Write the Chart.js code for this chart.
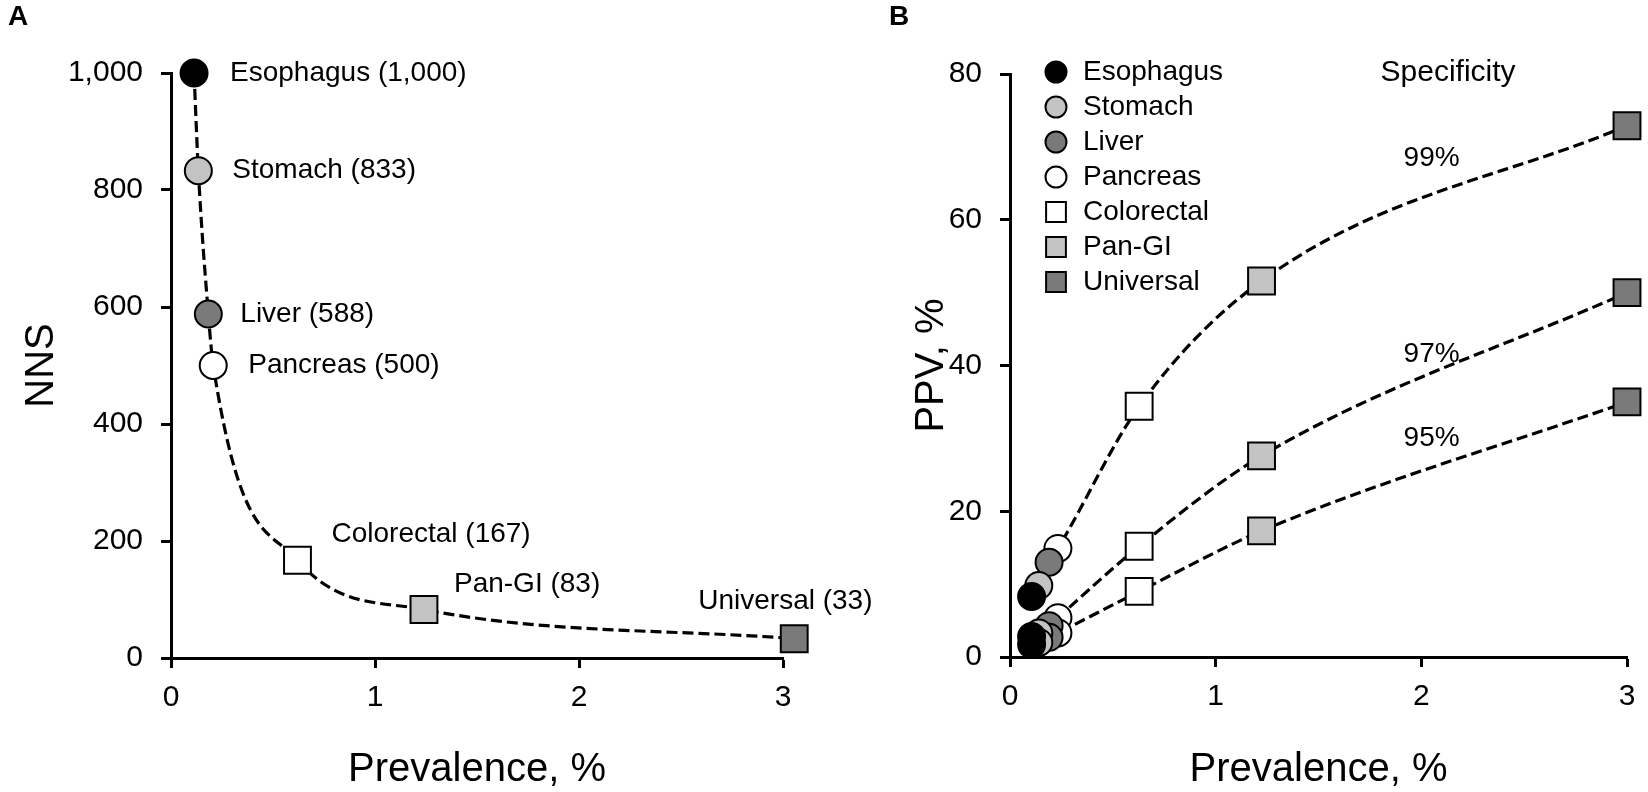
<!DOCTYPE html>
<html>
<head>
<meta charset="utf-8">
<title>NNS and PPV by prevalence</title>
<script src="https://cdn.jsdelivr.net/npm/chart.js@4.4.1/dist/chart.umd.min.js"></script>
<style>
  html, body { margin: 0; padding: 0; background: #fff; }
  #wrap { position: relative; width: 1648px; height: 792px; overflow: hidden; }
  canvas { position: absolute; top: 0; }
  #chartA { left: 0; }
  #chartB { left: 850px; }
  .tag { position: absolute; top: 0; font: bold 28px "Liberation Sans", Arial, sans-serif; color: #000; }
</style>
</head>
<body>
<div id="wrap">
  <canvas id="chartA" width="900" height="792"></canvas>
  <canvas id="chartB" width="798" height="792"></canvas>
  <div class="tag" style="left:8px">A</div>
  <div class="tag" style="left:889px">B</div>
</div>
<script>
/* ---- data ---- */
const categories = ['Esophagus', 'Stomach', 'Liver', 'Pancreas', 'Colorectal', 'Pan-GI', 'Universal'];
const nnsValues = [1000, 833, 588, 500, 167, 83, 33];
const prevalenceA = [0.113, 0.134, 0.183, 0.207, 0.62, 1.24, 3.055];
const prevalenceB = [0.105, 0.14, 0.19, 0.233, 0.628, 1.223, 3.0];
const ppv99 = [8.3, 9.8, 13.0, 14.9, 34.4, 51.6, 72.9];
const ppv97 = [2.8, 3.3, 4.3, 5.4, 15.2, 27.6, 50.0];
const ppv95 = [1.7, 2.0, 2.7, 3.3, 9.0, 17.3, 35.0];
const specLabels = ['99%', '97%', '95%'];
const prevTicks = [0, 1, 2, 3];
const nnsTicks = [0, 200, 400, 600, 800, 1000];
const ppvTicks = [0, 20, 40, 60, 80];

/* ---- styles ---- */
const FONT = '"Liberation Sans", Arial, sans-serif';
const markerShape = ['circle', 'circle', 'circle', 'circle', 'rect', 'rect', 'rect'];
const markerFill = ['#000000', '#c3c3c3', '#7a7a7a', '#ffffff', '#ffffff', '#c3c3c3', '#7a7a7a'];
// text offset from the marker centre (px) for panel A labels
const labelOffsetA = [[36, 0], [34, 0], [32, 0], [35, 0], [34, -26], [30, -25], [-96, -37]];
// where the specificity labels sit (data units)
const specLabelPos = [[2.05, 68.5], [2.05, 41.5], [2.05, 30]];

const markerRadius = i => markerShape[i] === 'rect' ? 19 : 13.5;

function makeScale(cfg) {
    return {
        type: 'linear',
        min: cfg.ticks[0],
        max: cfg.ticks[cfg.ticks.length - 1],
        afterBuildTicks: s => { s.ticks = cfg.ticks.map(v => ({ value: v })); },
        afterFit: s => {
            if (cfg.width) s.width = cfg.width;
            if (cfg.height) s.height = cfg.height;
        },
        grid: { drawOnChartArea: false, drawTicks: true, tickLength: 10, tickWidth: 3, tickColor: '#000' },
        border: { color: '#000', width: 3 },
        ticks: { color: '#000', font: { size: 30, family: FONT }, padding: cfg.tickPad },
        title: {
            display: true, text: cfg.title, color: '#000',
            font: { size: 40, family: FONT, lineHeight: 1 },
            padding: cfg.titlePad
        }
    };
}

function markerDataset(i, points) {
    return {
        label: categories[i],
        data: points,
        showLine: false,
        pointStyle: markerShape[i],
        pointRadius: markerRadius(i),
        pointBackgroundColor: markerFill[i],
        pointBorderColor: '#000',
        pointBorderWidth: 2,
        clip: false
    };
}

function curveDataset(xs, ys) {
    return {
        label: '_curve',
        data: xs.map((x, k) => ({ x, y: ys[k] })),
        borderColor: '#000',
        borderWidth: 3.2,
        borderDash: [11, 5],
        pointRadius: 0,
        cubicInterpolationMode: 'monotone',
        fill: false,
        clip: false
    };
}

const baseOptions = {
    responsive: false,
    animation: false,
    devicePixelRatio: 1,
    locale: 'en-US',
    events: [],
    plugins: { legend: { display: false }, tooltip: { enabled: false } }
};

/* ---- panel A labels ---- */
const pointLabelsA = {
    id: 'pointLabelsA',
    afterDatasetsDraw(chart) {
        const { ctx, scales: { x, y } } = chart;
        ctx.save();
        ctx.font = `28px ${FONT}`;
        ctx.fillStyle = '#000';
        ctx.textBaseline = 'middle';
        ctx.textAlign = 'left';
        categories.forEach((name, i) => {
            const px = x.getPixelForValue(prevalenceA[i]) + labelOffsetA[i][0];
            const py = y.getPixelForValue(nnsValues[i]) + labelOffsetA[i][1];
            ctx.fillText(`${name} (${nnsValues[i].toLocaleString('en-US')})`, px, py);
        });
        ctx.restore();
    }
};

/* ---- panel B legend + specificity labels ---- */
const legendB = {
    id: 'legendB',
    afterDatasetsDraw(chart) {
        const { ctx, chartArea, scales: { x, y } } = chart;
        ctx.save();
        ctx.textBaseline = 'middle';
        ctx.fillStyle = '#000';

        // legend in the upper left corner
        ctx.font = `28px ${FONT}`;
        ctx.textAlign = 'left';
        categories.forEach((name, i) => {
            const cx = chartArea.left + 46;
            const cy = chartArea.top - 2 + i * 35;
            ctx.fillStyle = markerFill[i];
            ctx.strokeStyle = '#000';
            ctx.lineWidth = 2;
            Chart.helpers.drawPoint(ctx, {
                pointStyle: markerShape[i],
                radius: markerShape[i] === 'rect' ? 14 : 10.5,
                borderWidth: 2
            }, cx, cy);
            ctx.fillStyle = '#000';
            ctx.fillText(name, chartArea.left + 73, cy);
        });

        // curve labels
        ctx.textAlign = 'center';
        specLabels.forEach((t, k) => {
            ctx.fillText(t, x.getPixelForValue(specLabelPos[k][0]), y.getPixelForValue(specLabelPos[k][1]));
        });
        ctx.font = `30px ${FONT}`;
        ctx.fillText('Specificity', x.getPixelForValue(2.13), y.getPixelForValue(80.2));
        ctx.restore();
    }
};

/* ---- Panel A: NNS ---- */
new Chart(document.getElementById('chartA'), {
    type: 'line',
    data: {
        datasets: [
            ...categories.map((_, i) => markerDataset(i, [{ x: prevalenceA[i], y: nnsValues[i] }])),
            curveDataset(prevalenceA, nnsValues)
        ]
    },
    options: {
        ...baseOptions,
        layout: { padding: { left: 0, top: 73, right: 117, bottom: 0 } },
        scales: {
            x: makeScale({ ticks: prevTicks, title: 'Prevalence, %', height: 134, tickPad: 12, titlePad: { top: 0, bottom: 2 } }),
            y: makeScale({ ticks: nnsTicks, title: 'NNS', width: 171, tickPad: 18, titlePad: { top: 22, bottom: 0 } })
        }
    },
    plugins: [pointLabelsA]
});

/* ---- Panel B: PPV ---- */
new Chart(document.getElementById('chartB'), {
    type: 'line',
    data: {
        datasets: [
            ...categories.map((_, i) => markerDataset(i, [
                { x: prevalenceB[i], y: ppv99[i] },
                { x: prevalenceB[i], y: ppv97[i] },
                { x: prevalenceB[i], y: ppv95[i] }
            ])),
            curveDataset(prevalenceB, ppv99),
            curveDataset(prevalenceB, ppv97),
            curveDataset(prevalenceB, ppv95)
        ]
    },
    options: {
        ...baseOptions,
        layout: { padding: { left: 0, top: 74, right: 16, bottom: 0 } },
        scales: {
            x: makeScale({ ticks: prevTicks, title: 'Prevalence, %', height: 135, tickPad: 12, titlePad: { top: 0, bottom: 2 } }),
            y: makeScale({ ticks: ppvTicks, title: 'PPV, %', width: 160, tickPad: 18, titlePad: { top: 62, bottom: 0 } })
        }
    },
    plugins: [legendB]
});
</script>
</body>
</html>
